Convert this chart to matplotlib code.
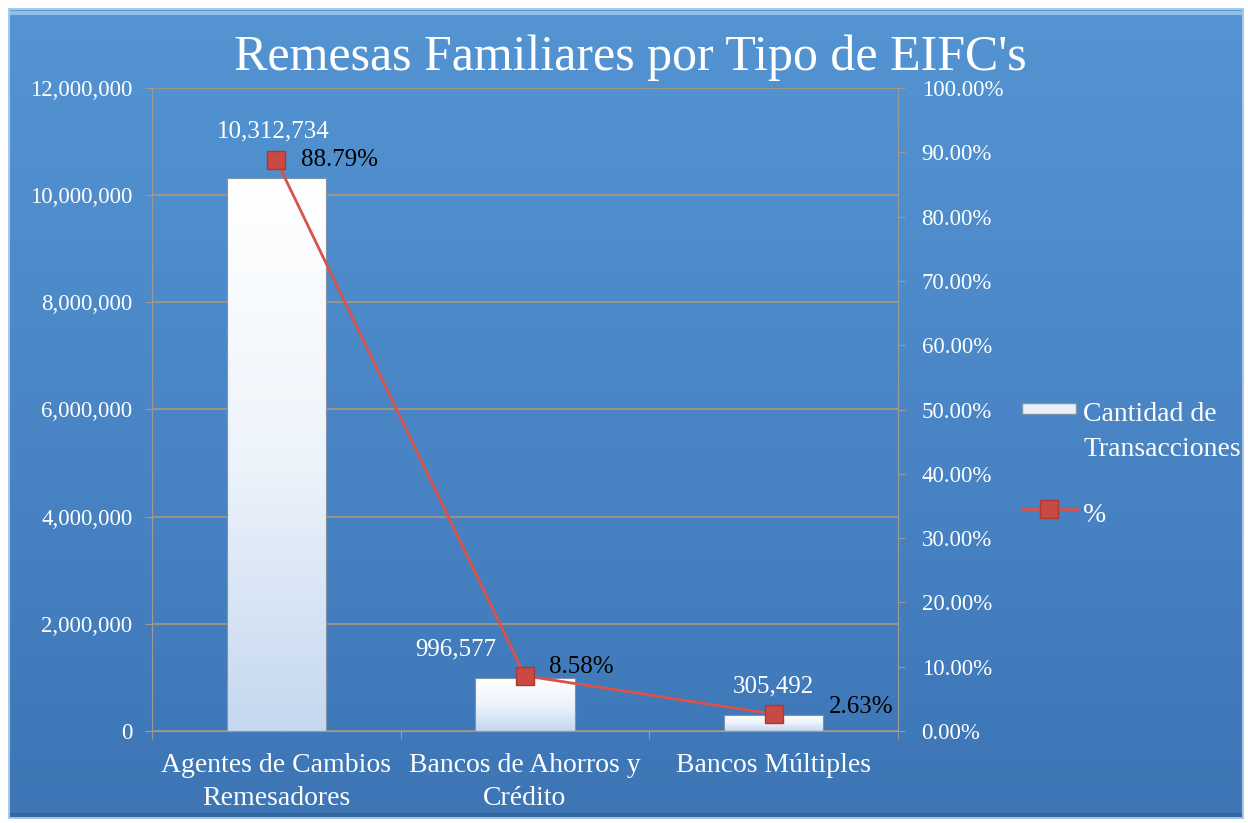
import matplotlib.pyplot as plt
import numpy as np
from matplotlib.colors import LinearSegmentedColormap
from matplotlib.lines import Line2D
from matplotlib.patches import Rectangle

# Datos
categorias = ['Agentes de Cambios\nRemesadores', 'Bancos de Ahorros y\nCrédito', 'Bancos Múltiples']
transacciones = [10312734, 996577, 305492]
porcentajes = [88.79, 8.58, 2.63]
etiquetas_trans = ['10,312,734', '996,577', '305,492']
etiquetas_pct = ['88.79%', '8.58%', '2.63%']
leyenda = ['Cantidad de\nTransacciones', '%']

plt.rcParams['font.family'] = ['Liberation Serif', 'DejaVu Serif']

W, H = 1248, 823
fig = plt.figure(figsize=(W / 100, H / 100), dpi=100)
fig.patch.set_facecolor('white')

# Fondo azul con degradado (coordenadas en pixeles)
fondo = fig.add_axes([0, 0, 1, 1])
fondo.set_xlim(0, W)
fondo.set_ylim(H, 0)
fondo.axis('off')
azul = LinearSegmentedColormap.from_list('azul', ['#5494d3', '#4a86c6', '#3d75b5'])
grad = np.linspace(0, 1, 256).reshape(-1, 1)
fondo.imshow(grad, cmap=azul, extent=[9, 1243, 818, 9], aspect='auto', zorder=0)
fondo.add_patch(Rectangle((9, 9), 1234, 809, fill=False, edgecolor='#a9c8e6', lw=1.5, zorder=1))
fondo.plot([12, 1240], [13, 13], color='#8fc0ea', lw=3, zorder=1)
fondo.plot([12, 1240], [815, 815], color='#35679f', lw=3, zorder=1)

fig.text(0.505, 0.93, "Remesas Familiares por Tipo de EIFC's", ha='center', va='center',
         fontsize=36, color='white')

# Ejes principales
x0, x1, y0, y1 = 152, 898, 88, 731
ax = fig.add_axes([x0 / W, 1 - y1 / H, (x1 - x0) / W, (y1 - y0) / H])
ax.set_facecolor('none')
ax2 = ax.twinx()

x = np.arange(len(categorias))
ancho = 0.4

# Barras con degradado blanco a celeste
barras = ax.bar(x, transacciones, width=ancho, color='none', edgecolor='#7f93a8', linewidth=0.8, zorder=3)
celeste = LinearSegmentedColormap.from_list('celeste', ['#ffffff', '#eef4fb', '#c5d8ef'])
for b in barras:
    bx, by, bw, bh = b.get_x(), b.get_y(), b.get_width(), b.get_height()
    im = ax.imshow(grad, cmap=celeste, extent=[bx, bx + bw, by, by + bh],
                   aspect='auto', origin='upper', zorder=2)
    im.set_clip_path(b)
ax.set_aspect('auto')
ax.set_xlim(-0.5, 2.5)
ax.set_ylim(0, 12000000)
ax2.set_ylim(0, 100)

# Etiquetas de cantidad (desplazamiento en puntos)
desp_trans = [(-2, 34), (-50, 20), (0, 20)]
for xi, v, lbl, off in zip(x, transacciones, etiquetas_trans, desp_trans):
    ax.annotate(lbl, (xi, v), xytext=off, textcoords='offset points', ha='center', va='center',
                color='white', fontsize=18, zorder=6)

ax.set_yticks(np.arange(0, 12000001, 2000000))
ax.set_yticklabels([f'{v:,}' for v in range(0, 12000001, 2000000)])
ax.yaxis.grid(True, color='#b39a72', lw=1.2, alpha=0.9)
ax.set_axisbelow(True)
ax.set_xticks([-0.5, 0.5, 1.5, 2.5])
ax.set_xticklabels([])
ax.set_xticks(x, minor=True)
ax.set_xticklabels(categorias, minor=True, fontsize=20, color='white', linespacing=1.4)
ax.tick_params(axis='x', which='minor', length=0, pad=16)
ax.tick_params(axis='x', which='major', length=6, color='#9a9a9a')
ax.tick_params(axis='y', labelcolor='white', labelsize=16.5, length=5, pad=9, color='#9a9a9a')

# Linea de porcentajes
estilo_linea = dict(color='#d9534b', lw=2, marker='s', markersize=13,
                    markerfacecolor='#c94a43', markeredgecolor='#a83a35')
ax2.plot(x, porcentajes, zorder=5, **estilo_linea)
desp_pct = [(18, 0), (17, 6), (40, 5)]
for xi, p, lbl, off in zip(x, porcentajes, etiquetas_pct, desp_pct):
    ax2.annotate(lbl, (xi, p), xytext=off, textcoords='offset points', ha='left', va='center',
                 color='black', fontsize=18, zorder=6)

ax2.set_yticks(np.arange(0, 101, 10))
ax2.set_yticklabels([f'{v:.2f}%' for v in range(0, 101, 10)])
ax2.tick_params(axis='y', labelcolor='white', labelsize=16.5, length=5, pad=12, color='#9a9a9a')

for a in (ax, ax2):
    for s in a.spines.values():
        s.set_color('#9a9a9a')
    a.spines['top'].set_visible(False)

# Leyenda a la derecha
fondo.add_patch(Rectangle((1022, 403), 54, 11, facecolor='#e8f0fa', edgecolor='#7f93a8', lw=1, zorder=3))
fondo.text(1083, 432, leyenda[0], ha='left', va='center', color='white', fontsize=20,
           linespacing=1.55, zorder=3)
fondo.add_line(Line2D([1022, 1049, 1078], [509, 509, 509], markevery=[1], zorder=3, **estilo_linea))
fondo.text(1083, 515, leyenda[1], ha='left', va='center', color='white', fontsize=20, zorder=3)

fig.savefig('out.png', dpi=100, facecolor='white')
